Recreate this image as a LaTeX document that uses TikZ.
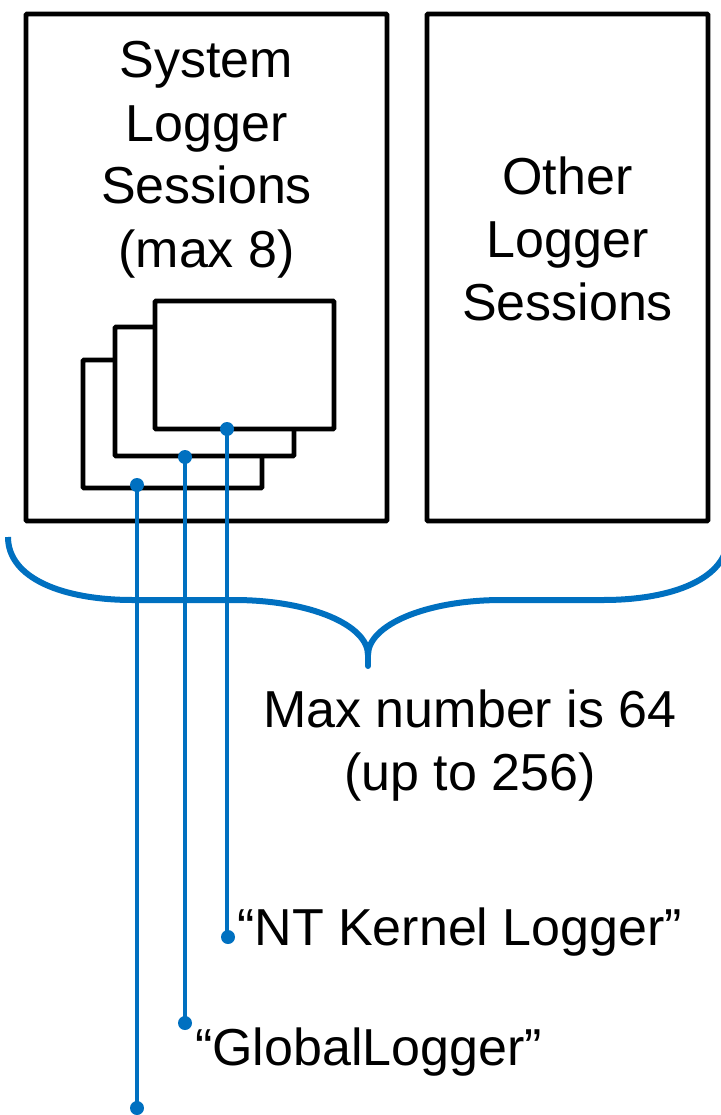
\documentclass[tikz,border=0pt]{standalone}
\usepackage{fontspec}
\setmainfont{Liberation Sans}
\definecolor{msblue}{RGB}{0,112,192}
\begin{document}
\begin{tikzpicture}[x=1pt,y=-1pt,
  box/.style={draw=black,line width=4.8pt,rounded corners=1pt,fill=white,inner sep=0pt},
  lbl/.style={font=\fontsize{52}{63}\selectfont,inner sep=0pt,align=center,anchor=base},
  lead/.style={draw=msblue,line width=3.4pt},
  pin/.style={circle,fill=msblue,inner sep=0pt,minimum size=14pt},
  bracestroke/.style={draw=msblue,line width=6pt}]
\useasboundingbox (0,0) rectangle (720,1115);
% main boxes
\node[box,minimum width=361pt,minimum height=507pt] (sys) at (206.5,267.5) {};
\node[box,minimum width=281pt,minimum height=507pt] (oth) at (567.5,267.5) {};
% stacked session boxes
\node[box,minimum width=179pt,minimum height=128pt] (s3) at (172.5,424) {};
\node[box,minimum width=179pt,minimum height=129pt] (s2) at (204.5,391.5) {};
\node[box,minimum width=179pt,minimum height=128pt] (s1) at (244.5,365) {};
% texts (anchor=base is the last line's baseline)
\node[lbl] (tsys) at (206.5,267) {System\\Logger\\Sessions\\(max 8)};
\node[lbl] (toth) at (567.5,320) {Other\\Logger\\Sessions};
\node[lbl] (tmax) at (470,790) {Max number is 64\\(up to 256)};
% pins
\node[pin] (p1) at (227,429) {};
\node[pin] (p2) at (185,457) {};
\node[pin] (p3) at (137,485) {};
\node[pin] (q1) at (228,937) {};
\node[pin] (q2) at (185,1023) {};
\node[pin] (q3) at (137,1108) {};
\draw[lead] (p1.center) -- (p1.center |- q1.center) -- (q1.center);
\draw[lead] (p2.center) -- (q2.center);
\draw[lead] (p3.center) -- (q3.center);
\node[lbl,anchor=base west] (tnt) at (237,945) {“NT Kernel Logger”};
\node[lbl,anchor=base west] (tgl) at (195,1065) {“GlobalLogger”};
% brace
\coordinate (bl) at (8,537);
\coordinate (br) at (728,537);
\coordinate (tip) at (368,666);
\path[bracestroke,line cap=butt]
  (bl) .. controls (8,578) and (62,600) .. (133,600) -- (234,600)
  .. controls (310,600) and (368,625) .. (368,655);
\path[bracestroke,line cap=butt]
  (368,655) .. controls (368,625) and (426,600) .. (502,600) -- (603,600)
  .. controls (674,600) and (728,578) .. (br);
\path[bracestroke,line cap=round] (368,652) -- (tip);
\end{tikzpicture}
\end{document}
